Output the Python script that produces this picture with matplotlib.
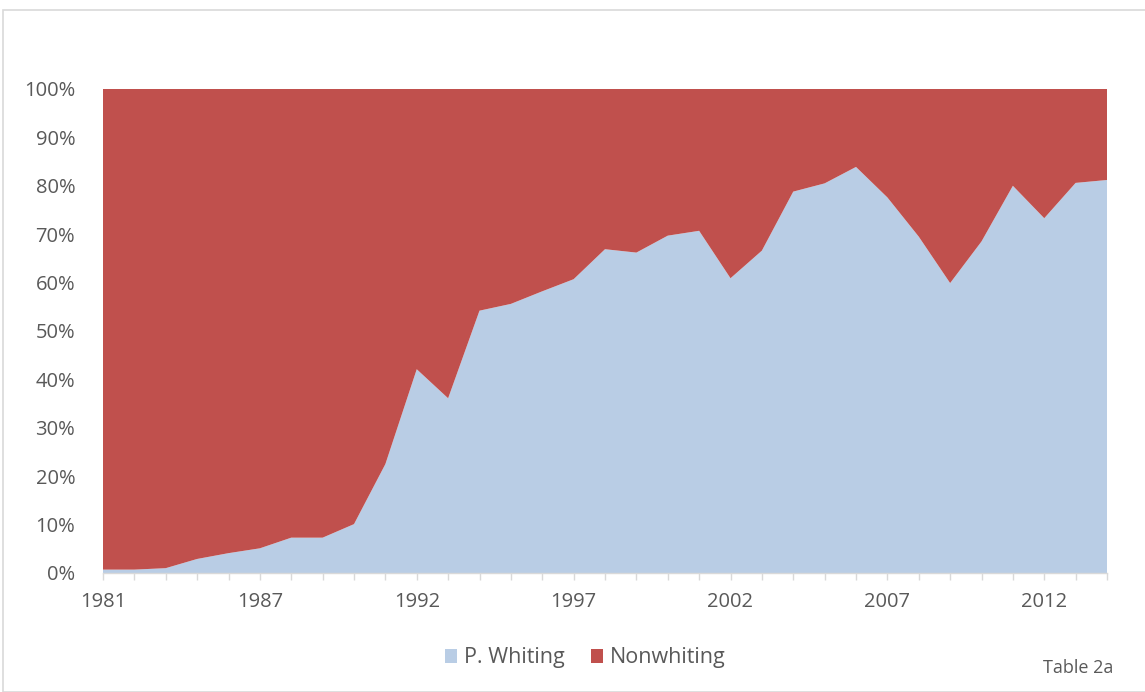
import matplotlib.pyplot as plt
from matplotlib.patches import Rectangle, Patch

# category years (1982 not in the series)
years = [1981] + list(range(1983, 2015))

# share of P. Whiting, percent
whiting = [0.7, 0.7, 1.0, 2.9, 4.1, 5.1, 7.3, 7.3, 10.1, 22.5,
           42.1, 36.1, 54.2, 55.6, 58.2, 60.7, 66.9, 66.2, 69.7, 70.7,
           60.9, 66.6, 78.8, 80.5, 83.9, 77.6, 69.5, 59.9, 68.5, 80.0,
           73.3, 80.6, 81.2]
nonwhiting = [100 - w for w in whiting]

label_years = [1981, 1987, 1992, 1997, 2002, 2007, 2012]

blue = '#B9CDE5'
red = '#C0504D'
gray_text = '#595959'

plt.rcParams['font.family'] = ['Open Sans', 'DejaVu Sans']

fig = plt.figure(figsize=(11.45, 6.92), dpi=100)
fig.patches.append(Rectangle((3 / 1145, 0), 1, 1 - 10 / 692, transform=fig.transFigure,
                             fill=False, edgecolor='#D9D9D9', linewidth=1.2))

ax = fig.add_axes([103 / 1145, 1 - 573 / 692, (1107 - 103) / 1145, (573 - 89) / 692])

x = list(range(len(years)))
ax.stackplot(x, whiting, nonwhiting, colors=[blue, red], labels=['P. Whiting', 'Nonwhiting'],
             linewidth=0)

ax.set_xlim(0, len(years) - 1)
ax.set_ylim(0, 100)

ax.set_yticks(range(0, 101, 10))
ax.set_yticklabels([f'{v}%' for v in range(0, 101, 10)])
ax.tick_params(axis='y', length=0, pad=20, labelsize=14.5, labelcolor=gray_text)

ax.set_xticks(x, minor=True)
ax.set_xticks([years.index(y) for y in label_years])
ax.set_xticklabels([str(y) for y in label_years])
ax.tick_params(axis='x', which='both', length=5, color='#D9D9D9', width=1,
               labelsize=14.5, labelcolor=gray_text, pad=9)

for side in ['top', 'right', 'left']:
    ax.spines[side].set_visible(False)
ax.spines['bottom'].set_color('#D9D9D9')
ax.spines['bottom'].set_linewidth(1)

handles = [Patch(facecolor=blue, label='P. Whiting'), Patch(facecolor=red, label='Nonwhiting')]
fig.legend(handles=handles, loc='center', bbox_to_anchor=(0.511, 1 - 658 / 692), ncol=2,
           frameon=False, fontsize=15.5, handlelength=0.6, handleheight=0.6,
           handletextpad=0.3, columnspacing=1.2, labelcolor=gray_text)

fig.text(1078 / 1145, 1 - 668 / 692, 'Table 2a', ha='center', va='center',
         fontsize=13, color=gray_text)

fig.savefig('out.png', dpi=100)
